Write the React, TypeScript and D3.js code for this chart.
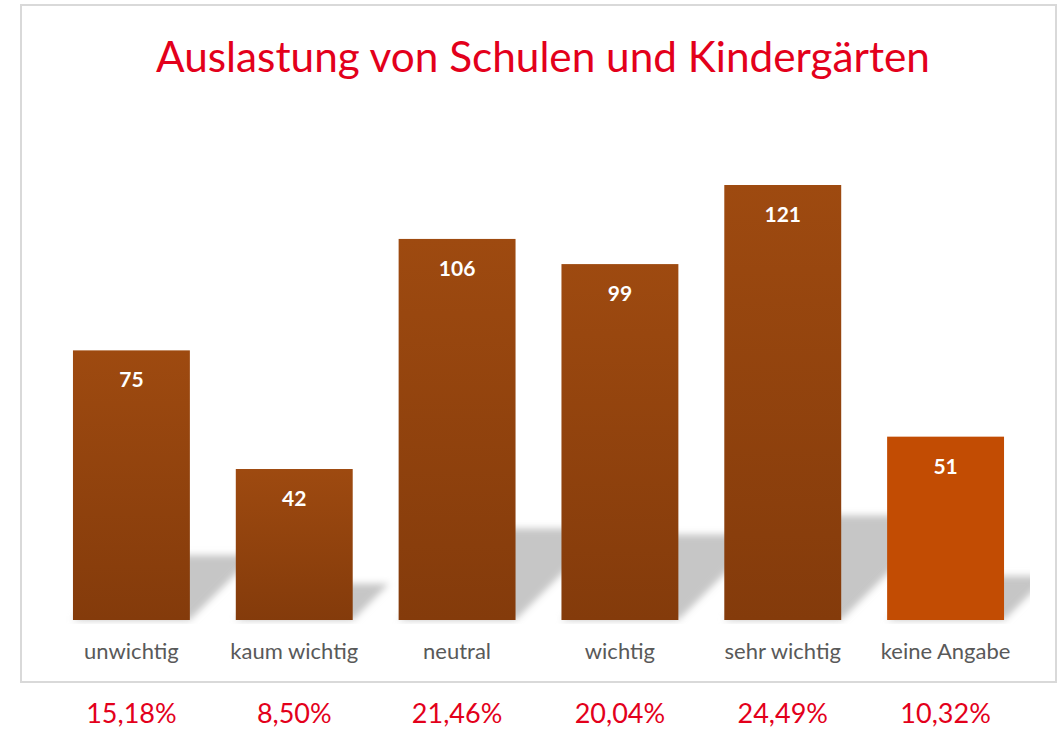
import React from "react";
import * as d3 from "d3";

const categories = ["unwichtig", "kaum wichtig", "neutral", "wichtig", "sehr wichtig", "keine Angabe"];
const values = [75, 42, 106, 99, 121, 51];
const percentLabels = ["15,18%", "8,50%", "21,46%", "20,04%", "24,49%", "10,32%"];
const title = "Auslastung von Schulen und Kindergärten";

const W = 1061;
const H = 729;
const FONT = "Lato, 'Open Sans', sans-serif";

export default function App() {
  const x = d3.scaleBand<string>().domain(categories).range([50, 1027]).paddingInner(0.282).paddingOuter(0.141);
  const y = d3.scaleLinear().domain([0, 140]).range([620, 116.7]);
  const base = y(0);
  const k = 0.24;

  return (
    <svg width={W} height={H} style={{ position: "absolute", left: 0, top: 0, background: "#fff" }}>
      <defs>
        <linearGradient id="barGrad" x1="0" y1="0" x2="0" y2="1">
          <stop offset="0%" stopColor="#9e4a10" />
          <stop offset="100%" stopColor="#843b0b" />
        </linearGradient>
        <filter id="blur" x="-20%" y="-20%" width="140%" height="140%">
          <feGaussianBlur stdDeviation="3.6" />
        </filter>
        <clipPath id="plotClip">
          <rect x={22} y={6} width={1008} height={base + 4 - 6} />
        </clipPath>
      </defs>
      <rect x={21} y={5} width={1035} height={677} fill="#fff" stroke="#d9d9d9" strokeWidth={2} />
      <text x={543} y={72} textAnchor="middle" fontFamily={FONT} fontSize={42.3} fill="#e3001b">
        {title}
      </text>
      <g clipPath="url(#plotClip)">
        {categories.map((c, i) => {
          const x0 = x(c)!;
          const x1 = x0 + x.bandwidth();
          const sh = (base - y(values[i])) * k;
          const pts = [
            [x0, base],
            [x1, base],
            [x1 + sh, base - sh],
            [x0 + sh, base - sh],
          ]
            .map((p) => p.join(","))
            .join(" ");
          return <polygon key={"s" + c} points={pts} fill="#c6c6c6" filter="url(#blur)" />;
        })}
      </g>
      {categories.map((c, i) => (
        <rect
          key={"b" + c}
          x={x(c)}
          y={y(values[i])}
          width={x.bandwidth()}
          height={base - y(values[i])}
          fill={i === categories.length - 1 ? "#c24c03" : "url(#barGrad)"}
        />
      ))}
      {categories.map((c, i) => (
        <text
          key={"v" + c}
          x={x(c)! + x.bandwidth() / 2}
          y={y(values[i]) + 37}
          textAnchor="middle"
          fontFamily={FONT}
          fontWeight="bold"
          fontSize={21}
          fill="#ffffff"
        >
          {values[i]}
        </text>
      ))}
      {categories.map((c) => (
        <text
          key={"c" + c}
          x={x(c)! + x.bandwidth() / 2}
          y={659}
          textAnchor="middle"
          fontFamily={FONT}
          fontSize={22}
          fill="#595959"
        >
          {c}
        </text>
      ))}
      {categories.map((c, i) => (
        <text
          key={"p" + c}
          x={x(c)! + x.bandwidth() / 2}
          y={723}
          textAnchor="middle"
          fontFamily={FONT}
          fontSize={27}
          fill="#e3001b"
        >
          {percentLabels[i]}
        </text>
      ))}
    </svg>
  );
}
